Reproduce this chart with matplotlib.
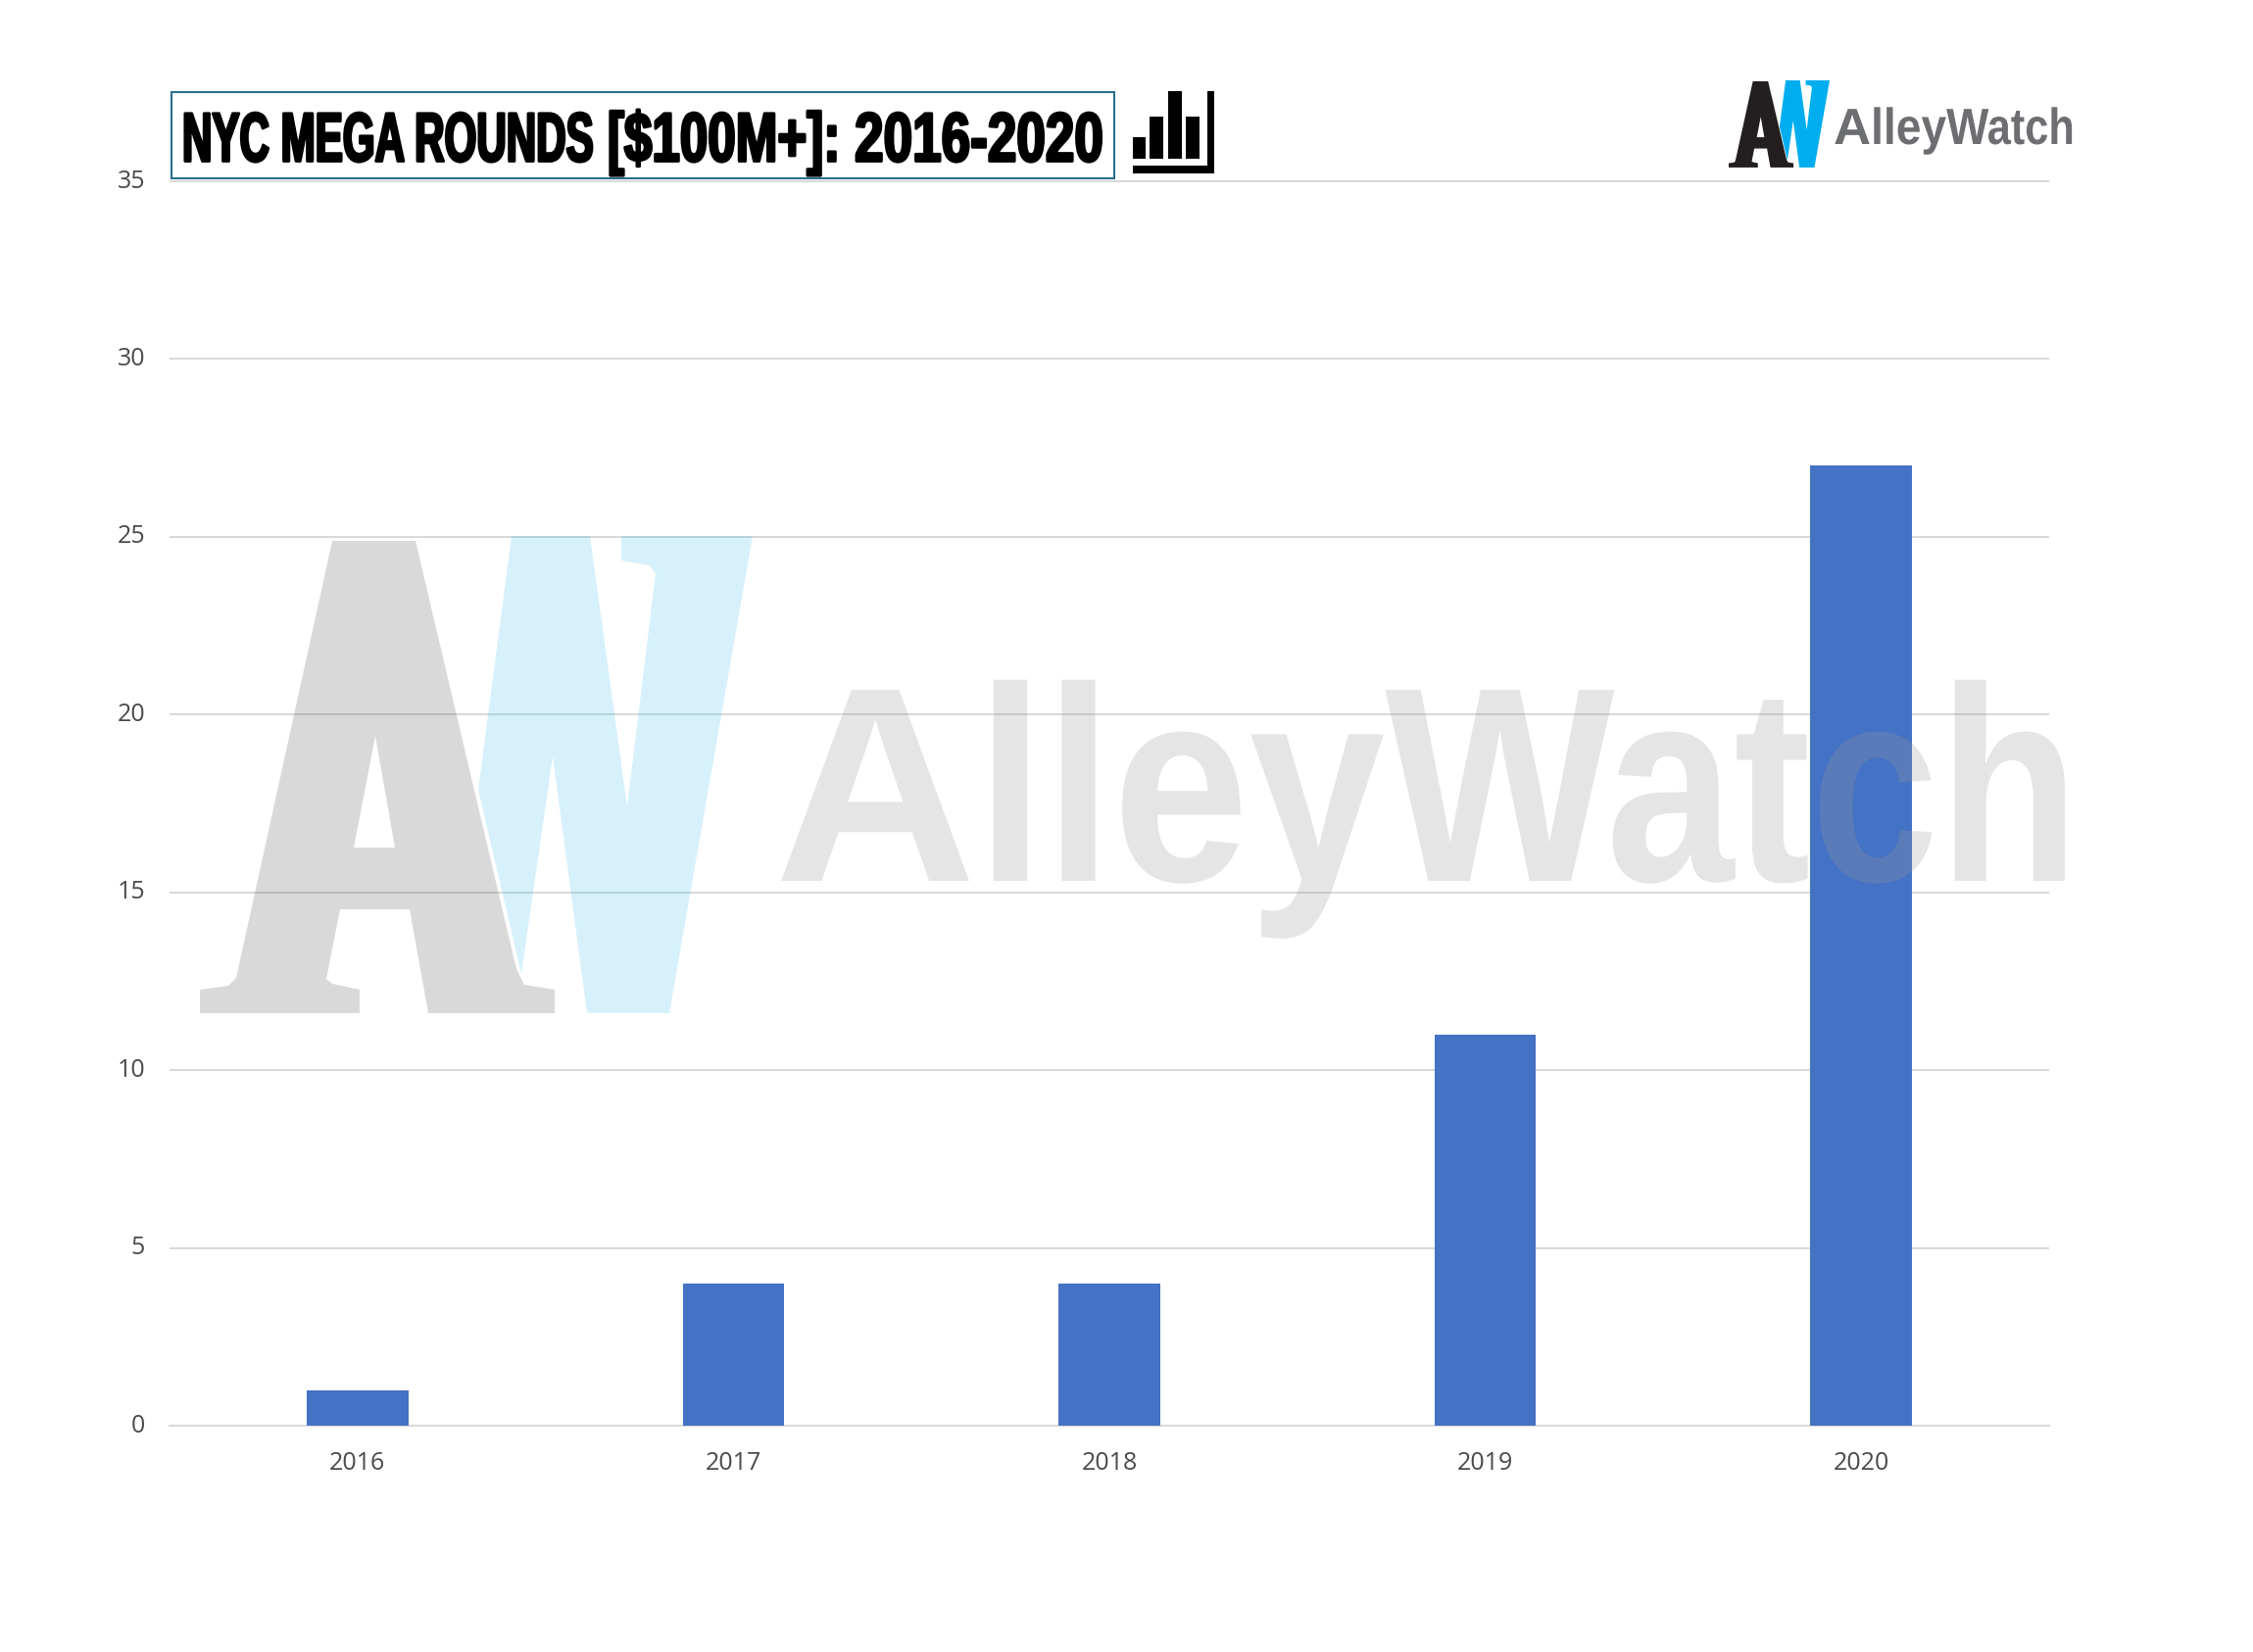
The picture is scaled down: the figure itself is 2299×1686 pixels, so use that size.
import matplotlib
matplotlib.use('Agg')
import matplotlib.pyplot as plt
import numpy as np
from matplotlib.patches import PathPatch, Rectangle
from matplotlib.path import Path
from matplotlib.patheffects import AbstractPathEffect
from matplotlib.transforms import IdentityTransform

W, H = 2299, 1686

years = ['2016', '2017', '2018', '2019', '2020']
rounds = [1, 4, 4, 11, 27]
y_ticks = [0, 5, 10, 15, 20, 25, 30, 35]

# logo outlines, in pixels of the large watermark
logo_a = [(339, 552), (424, 552), (527, 989), (535, 1005), (566, 1010), (566, 1034),
          (437, 1034), (418, 928), (347, 928), (333, 999), (339, 1004), (367, 1010),
          (367, 1034), (204, 1034), (204, 1010), (233, 1006), (241, 998)]
logo_a_hole = [(383, 751), (361, 865), (403, 865)]
logo_w = [(522, 547), (602, 547), (640, 823), (669, 585), (662, 577), (634, 572),
          (634, 547), (768, 547), (683, 1034), (599, 1034), (564, 772), (532, 994), (488, 806)]


class Squeeze(AbstractPathEffect):
    # the condensed fonts are not installed, so narrow the glyphs when drawing
    def __init__(self, xs_from, xs_to, stroke=0):
        super().__init__()
        self.xs_from = xs_from
        self.xs_to = xs_to
        self.stroke = stroke

    def draw_path(self, renderer, gc, tpath, affine, rgbFace=None):
        verts = affine.transform(tpath.vertices)
        verts[:, 0] = np.interp(verts[:, 0], self.xs_from, self.xs_to)
        gc0 = renderer.new_gc()
        gc0.copy_properties(gc)
        if self.stroke:
            gc0.set_foreground(rgbFace)
            gc0.set_linewidth(self.stroke)
        renderer.draw_path(gc0, Path(verts, tpath.codes), IdentityTransform(), rgbFace)
        gc0.restore()


def fit_text(x0, y, s, size, color, parts, alpha=None, stroke=0):
    # parts: (prefix of s, pixel x where that prefix must end)
    t = ov.text(x0, y, s, family='Liberation Sans', weight='bold', fontsize=size,
                color=color, alpha=alpha, va='baseline', ha='left')
    r = fig.canvas.get_renderer()
    xs_from = [x0] + [x0 + r.get_text_width_height_descent(p, t.get_fontproperties(), False)[0]
                      for p, _ in parts]
    xs_to = [x0] + [x for _, x in parts]
    t.set_path_effects([Squeeze(xs_from, xs_to, stroke)])
    return t


fig = plt.figure(figsize=(W / 100, H / 100), dpi=100, facecolor='white')
ax = fig.add_axes([173 / W, 1 - 1455 / H, (2091 - 173) / W, (1455 - 185) / H])

ax.bar(range(len(years)), rounds, width=0.27, color='#4472C4', zorder=3)
ax.set_xlim(-0.5, 4.5)
ax.set_ylim(0, 35)
ax.set_xticks(range(len(years)))
ax.set_xticklabels(years)
ax.set_yticks(y_ticks)
ax.grid(axis='y', color='#D9D9D9', lw=1.44, zorder=1)
ax.set_axisbelow(True)
for g in ax.get_ygridlines():
    g.set_clip_on(False)
    g.set_solid_capstyle('butt')
for s in ['top', 'left', 'right']:
    ax.spines[s].set_visible(False)
ax.spines['bottom'].set_color('#D9D9D9')
ax.spines['bottom'].set_linewidth(1.44)
ax.tick_params(axis='both', length=0, labelcolor='#4A4A4A', labelsize=18)
ax.tick_params(axis='x', pad=19)
ax.tick_params(axis='y', pad=18)
for t in ax.get_xticklabels() + ax.get_yticklabels():
    t.set_family('Open Sans')
for t in ax.get_yticklabels():
    t.set_va('center')

# overlay in pixel coordinates for title, logo and watermark
ov = fig.add_axes([0, 0, 1, 1], facecolor='none', zorder=5)
ov.set_xlim(0, W)
ov.set_ylim(H, 0)
ov.axis('off')


def draw_logo(scale, dx, dy, alpha):
    def tr(pts):
        return [((x - 204) * scale + dx, (y - 547) * scale + dy) for x, y in pts]
    ov.add_patch(PathPatch(Path(tr(logo_w + logo_w[:1]), closed=True), fc='#00AEEF', ec='none',
                           alpha=alpha[1]))
    a_path = Path.make_compound_path(Path(tr(logo_a + logo_a[:1]), closed=True),
                                     Path(tr(logo_a_hole + logo_a_hole[:1]), closed=True))
    ov.add_patch(PathPatch(a_path, fc='#231F20', ec='none', alpha=alpha[0]))


# wordmark pieces as share of the wordmark width
word_parts = [('A', 0.155), ('Alley', 0.468), ('AlleyW', 0.644), ('AlleyWatch', 1.0)]

# watermark
draw_logo(1, 204, 547, (0.17, 0.16))
fit_text(790, 899, 'AlleyWatch', 204, '#999999',
         [(p, 790 + f * 1332) for p, f in word_parts], alpha=0.25)

# corner logo
draw_logo(103 / 564, 1764, 82, (1, 1))
fit_text(1871, 147, 'AlleyWatch', 37.5, '#6D6E71',
         [(p, 1871 + f * 246) for p, f in word_parts])

# title box
ov.add_patch(Rectangle((175, 94), 962, 88, fc='white', ec='#2A6F8F', lw=1.5))
fit_text(186, 164.5, 'NYC MEGA ROUNDS [$100M+]: 2016-2020', 51, 'black',
         [('NYC MEGA ROUNDS', 606), ('NYC MEGA ROUNDS [$100M+]:', 858),
          ('NYC MEGA ROUNDS [$100M+]: 2016-2020', 1127)], stroke=2)

# little bar icon next to the title
for x0, x1, top in [(1156, 1169, 140), (1173, 1187, 119), (1192, 1206, 93), (1210, 1224, 119)]:
    ov.add_patch(Rectangle((x0, top), x1 - x0, 162 - top, fc='black', ec='none'))
ov.add_patch(Rectangle((1232, 93), 7, 84, fc='black', ec='none'))
ov.add_patch(Rectangle((1156, 169), 83, 8, fc='black', ec='none'))

plt.savefig('out.png', dpi=100)
